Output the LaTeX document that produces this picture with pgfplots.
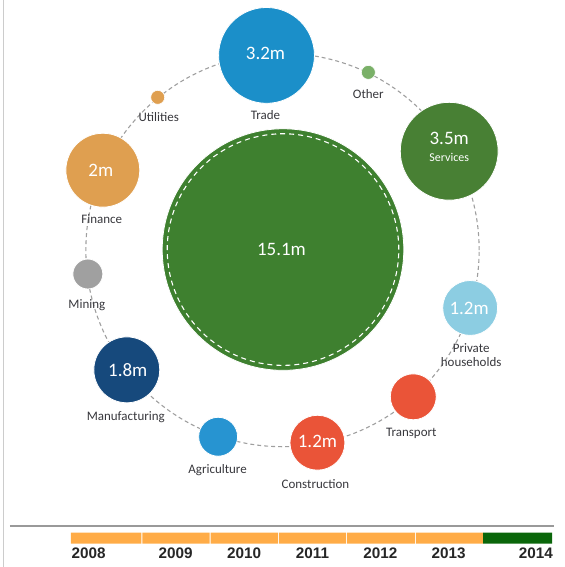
\documentclass[border=0pt]{standalone}
\usepackage{pgfplots}
\pgfplotsset{compat=1.18}
\usepackage{fontspec}
\setmainfont{Carlito}
\newfontfamily\yearfont{Liberation Sans}
\definecolor{cTrade}{RGB}{27,143,201}
\definecolor{cOther}{RGB}{122,176,104}
\definecolor{cServ}{RGB}{72,128,52}
\definecolor{cBig}{RGB}{62,128,47}
\definecolor{cPriv}{RGB}{140,205,226}
\definecolor{cRed}{RGB}{234,84,56}
\definecolor{cAgri}{RGB}{39,148,209}
\definecolor{cManu}{RGB}{22,73,124}
\definecolor{cMin}{RGB}{160,160,160}
\definecolor{cFin}{RGB}{223,159,80}
\definecolor{cLab}{RGB}{55,55,60}
\definecolor{cBar}{RGB}{255,172,71}
\definecolor{cGreen}{RGB}{10,102,10}
\tikzset{
  lab/.style={font=\fontsize{13}{14.5}\selectfont, text=cLab, inner sep=0pt},
  val/.style={font=\fontsize{19}{20}\selectfont, text=white, inner sep=0pt},
  yr/.style={font=\yearfont\bfseries\fontsize{15.3}{16}\selectfont, text=black!85, inner sep=0pt},
}
\begin{document}
\begin{tikzpicture}
\begin{axis}[
  set layers,
  width=565pt, height=567pt, scale only axis,
  xmin=0, xmax=565, ymin=0, ymax=567, y dir=reverse,
  hide axis, clip=false,
]
\path (rel axis cs:0,0) rectangle (rel axis cs:1,1);
% frame lines
\addplot[draw=black!20, line width=1pt] coordinates {(4,0) (4,567)};
\addplot[draw=black!40, line width=1.5pt] coordinates {(10,526.5) (555,526.5)};
% orbit
\draw[gray!75, line width=1.1pt, dash pattern=on 4pt off 3pt] (axis cs:283,250) circle[radius=197pt];
% big circle
\addplot[only marks, mark=*, mark size=121, mark options={fill=cBig, draw=white, line width=0.8pt}] coordinates {(283.5,249.5)};
% bubbles
\addplot[only marks, mark=*, mark size=48, mark options={fill=cTrade, draw=white, line width=0.8pt}] coordinates {(267,55)};
\addplot[only marks, mark=*, mark size=7, mark options={fill=cOther, draw=white, line width=0.6pt}] coordinates {(369,72)};
\addplot[only marks, mark=*, mark size=49, mark options={fill=cServ, draw=white, line width=0.8pt}] coordinates {(450,151)};
\addplot[only marks, mark=*, mark size=27.5, mark options={fill=cPriv, draw=white, line width=0.8pt}] coordinates {(471,308)};
\addplot[only marks, mark=*, mark size=23, mark options={fill=cRed, draw=white, line width=0.8pt}] coordinates {(414,397)};
\addplot[only marks, mark=*, mark size=27.5, mark options={fill=cRed, draw=white, line width=0.8pt}] coordinates {(318,443)};
\addplot[only marks, mark=*, mark size=19.5, mark options={fill=cAgri, draw=white, line width=0.8pt}] coordinates {(218.5,437)};
\addplot[only marks, mark=*, mark size=33, mark options={fill=cManu, draw=white, line width=0.8pt}] coordinates {(127,370)};
\addplot[only marks, mark=*, mark size=15, mark options={fill=cMin, draw=white, line width=0.8pt}] coordinates {(88,274)};
\addplot[only marks, mark=*, mark size=37, mark options={fill=cFin, draw=white, line width=0.8pt}] coordinates {(103,170)};
\addplot[only marks, mark=*, mark size=7, mark options={fill=cFin, draw=white, line width=0.6pt}] coordinates {(158,97)};
% timeline
\addplot[fill=cBar, draw=none] coordinates {(71,533) (141.5,533) (141.5,544) (71,544) (71,533)};
\addplot[fill=cBar, draw=none] coordinates {(142.5,533) (210,533) (210,544) (142.5,544) (142.5,533)};
\addplot[fill=cBar, draw=none] coordinates {(211,533) (278.5,533) (278.5,544) (211,544) (211,533)};
\addplot[fill=cBar, draw=none] coordinates {(279.5,533) (346.5,533) (346.5,544) (279.5,544) (279.5,533)};
\addplot[fill=cBar, draw=none] coordinates {(347.5,533) (415.5,533) (415.5,544) (347.5,544) (347.5,533)};
\addplot[fill=cBar, draw=none] coordinates {(416.5,533) (484,533) (484,544) (416.5,544) (416.5,533)};
\addplot[fill=cGreen, draw=none] coordinates {(484,533) (553,533) (553,544) (484,544) (484,533)};
\begin{pgfonlayer}{axis foreground}
\draw[white, line width=1.1pt, dash pattern=on 5pt off 4pt] (axis cs:283.5,249.5) circle[radius=116pt];
% value labels
\node[val] at (axis cs:266,53) {3.2m};
\node[val] at (axis cs:450,138) {3.5m};
\node[lab, text=white, font=\fontsize{12}{13}\selectfont] at (axis cs:450,157) {Services};
\node[val] at (axis cs:282,249) {15.1m};
\node[val] at (axis cs:101,170) {2m};
\node[val] at (axis cs:470,308) {1.2m};
\node[val] at (axis cs:128,370) {1.8m};
\node[val] at (axis cs:318,442) {1.2m};
% category labels
\node[lab] at (axis cs:266,115) {Trade};
\node[lab] at (axis cs:369,94) {Other};
\node[lab] at (axis cs:159,117) {Utilities};
\node[lab] at (axis cs:102,219) {Finance};
\node[lab] at (axis cs:87,305) {Mining};
\node[lab, align=center] at (axis cs:472,355) {Private\\households};
\node[lab] at (axis cs:126,417) {Manufacturing};
\node[lab] at (axis cs:412,434) {Transport};
\node[lab] at (axis cs:218,470) {Agriculture};
\node[lab] at (axis cs:316,484) {Construction};
% years
\node[yr, anchor=west] at (axis cs:71.5,553.5) {2008};
\node[yr] at (axis cs:176,553.5) {2009};
\node[yr] at (axis cs:244.5,553.5) {2010};
\node[yr] at (axis cs:313,553.5) {2011};
\node[yr] at (axis cs:381,553.5) {2012};
\node[yr] at (axis cs:449.5,553.5) {2013};
\node[yr, anchor=east] at (axis cs:554,553.5) {2014};
\end{pgfonlayer}
\end{axis}
\end{tikzpicture}
\end{document}
